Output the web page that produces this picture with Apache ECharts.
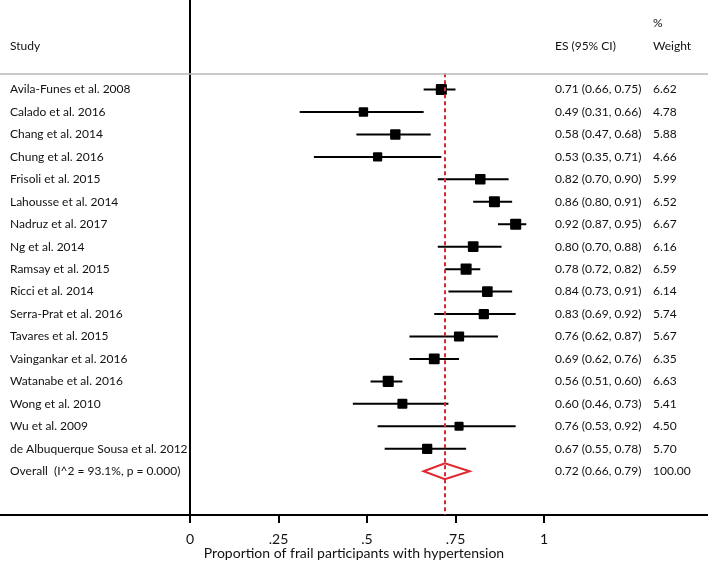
<!DOCTYPE html>
<html>
<head>
<meta charset="utf-8">
<script src="https://cdn.jsdelivr.net/npm/echarts@6/dist/echarts.min.js"></script>
<style>
html,body{margin:0;padding:0;background:#fff;overflow:hidden;}
#chart{width:708px;height:561px;}
</style>
</head>
<body>
<div id="chart"></div>
<script>
// ---- data ----
const studies = [
  "Avila-Funes et al. 2008",
  "Calado et al. 2016",
  "Chang et al. 2014",
  "Chung et al. 2016",
  "Frisoli et al. 2015",
  "Lahousse et al. 2014",
  "Nadruz et al. 2017",
  "Ng et al. 2014",
  "Ramsay et al. 2015",
  "Ricci et al. 2014",
  "Serra-Prat et al. 2016",
  "Tavares et al. 2015",
  "Vaingankar et al. 2016",
  "Watanabe et al. 2016",
  "Wong et al. 2010",
  "Wu et al. 2009",
  "de Albuquerque Sousa et al. 2012"
];
const es     = [0.71, 0.49, 0.58, 0.53, 0.82, 0.86, 0.92, 0.80, 0.78, 0.84, 0.83, 0.76, 0.69, 0.56, 0.60, 0.76, 0.67];
const ciLow  = [0.66, 0.31, 0.47, 0.35, 0.70, 0.80, 0.87, 0.70, 0.72, 0.73, 0.69, 0.62, 0.62, 0.51, 0.46, 0.53, 0.55];
const ciHigh = [0.75, 0.66, 0.68, 0.71, 0.90, 0.91, 0.95, 0.88, 0.82, 0.91, 0.92, 0.87, 0.76, 0.60, 0.73, 0.92, 0.78];
const weights = [6.62, 4.78, 5.88, 4.66, 5.99, 6.52, 6.67, 6.16, 6.59, 6.14, 5.74, 5.67, 6.35, 6.63, 5.41, 4.50, 5.70];

const overallLabel = "Overall  (I^2 = 93.1%, p = 0.000)";
const overallES = 0.72, overallLow = 0.66, overallHigh = 0.79, overallWeight = 100.00;

const xTickValues = [0, 0.25, 0.5, 0.75, 1];
const xTickLabels = ["0", ".25", ".5", ".75", "1"];
const xAxisTitle = "Proportion of frail participants with hypertension";
const headers = { study: "Study", es: "ES (95% CI)", pct: "%", weight: "Weight" };

// ---- layout constants (not data) ----
const X_MIN = -0.5367, X_MAX = 1.4633;
const Y_MIN = -3.987, Y_MAX = 18.95;
const COL_STUDY = -0.5085, COL_ES = 1.031, COL_WT = 1.308;
const ROW_HEADER = -1.95, ROW_PCT = -2.975, ROW_SEP = -0.72;
const FONT = "Lato";
const FS = 12;
const TXT = "#111";

const fmt = v => v.toFixed(2);

const rows = studies.map((s, i) => [es[i], ciLow[i], ciHigh[i], weights[i], i]);
const overallRow = [overallES, overallLow, overallHigh, overallWeight, studies.length];

function textEl(x, y, str) {
  return { type: 'text', x: x, y: y, style: { text: str, fill: TXT, font: FS + 'px ' + FONT, verticalAlign: 'middle', align: 'left' } };
}

const dom = document.getElementById('chart');
const chart = echarts.init(dom, null, { renderer: 'canvas', width: 708, height: 561 });
chart.setOption({
  animation: false,
  backgroundColor: '#fff',
  grid: { left: 0, right: 0, top: 0, bottom: 46, containLabel: false, outerBoundsMode: 'none' },
  xAxis: {
    type: 'value', min: X_MIN, max: X_MAX,
    axisLine: { show: true, onZero: false, lineStyle: { color: '#000', width: 2 } },
    axisTick: { show: true, customValues: xTickValues, length: 8, lineStyle: { color: '#000', width: 2 } },
    axisLabel: { show: true, customValues: xTickValues, margin: 17, color: TXT, fontFamily: FONT, fontSize: 14,
      formatter: v => { const k = xTickValues.findIndex(t => Math.abs(t - v) < 1e-9); return k >= 0 ? xTickLabels[k] : ''; } },
    splitLine: { show: false },
    name: xAxisTitle, nameLocation: 'middle', nameGap: 31, nameMoveOverlap: false,
    nameTextStyle: { color: TXT, fontFamily: FONT, fontSize: 14 }
  },
  yAxis: {
    type: 'value', inverse: true, min: Y_MIN, max: Y_MAX,
    axisLine: { show: true, onZero: true, lineStyle: { color: '#000', width: 2 } },
    axisTick: { show: false }, axisLabel: { show: false }, splitLine: { show: false }
  },
  series: [
    {
      type: 'custom',
      data: rows,
      renderItem: function (params, api) {
        const i = api.value(4);
        const p = api.coord([api.value(0), i]);
        const a = api.coord([api.value(1), i]);
        const b = api.coord([api.value(2), i]);
        const side = Math.sqrt(api.value(3)) * 4.3;
        const tStudy = api.coord([COL_STUDY, i]);
        const tEs = api.coord([COL_ES, i]);
        const tWt = api.coord([COL_WT, i]);
        return { type: 'group', children: [
          { type: 'line', shape: { x1: a[0], y1: a[1], x2: b[0], y2: b[1] }, style: { stroke: '#000', lineWidth: 2 } },
          { type: 'rect', shape: { x: p[0] - side / 2, y: p[1] - side / 2, width: side, height: side, r: 1 }, style: { fill: '#000' } },
          textEl(tStudy[0], tStudy[1], studies[params.dataIndex]),
          textEl(tEs[0], tEs[1], fmt(api.value(0)) + ' (' + fmt(api.value(1)) + ', ' + fmt(api.value(2)) + ')'),
          textEl(tWt[0], tWt[1], fmt(api.value(3)))
        ] };
      },
      markLine: {
        silent: true, symbol: 'none', label: { show: false },
        data: [
          [{ coord: [overallES, ROW_SEP] }, { coord: [overallES, Y_MAX] }]
        ],
        lineStyle: { color: '#d42a34', width: 2, type: [4, 3] }
      },
      z: 3
    },
    {
      type: 'custom',
      data: [overallRow],
      renderItem: function (params, api) {
        const i = api.value(4);
        const p = api.coord([api.value(0), i]);
        const a = api.coord([api.value(1), i]);
        const b = api.coord([api.value(2), i]);
        const h = 8;
        const tStudy = api.coord([COL_STUDY, i]);
        const tEs = api.coord([COL_ES, i]);
        const tWt = api.coord([COL_WT, i]);
        return { type: 'group', children: [
          { type: 'polygon', shape: { points: [[a[0], a[1]], [p[0], p[1] - h], [b[0], b[1]], [p[0], p[1] + h]] },
            style: { fill: '#fff', stroke: '#e0262e', lineWidth: 2 }, z2: 5 },
          textEl(tStudy[0], tStudy[1], overallLabel),
          textEl(tEs[0], tEs[1], fmt(api.value(0)) + ' (' + fmt(api.value(1)) + ', ' + fmt(api.value(2)) + ')'),
          textEl(tWt[0], tWt[1], fmt(api.value(3)))
        ] };
      },
      z: 4
    },
    {
      type: 'custom',
      data: [[0]],
      renderItem: function (params, api) {
        const s = api.coord([COL_STUDY, ROW_HEADER]);
        const e = api.coord([COL_ES, ROW_HEADER]);
        const w = api.coord([COL_WT, ROW_HEADER]);
        const pc = api.coord([COL_WT, ROW_PCT]);
        return { type: 'group', children: [
          textEl(s[0], s[1], headers.study),
          textEl(e[0], e[1], headers.es),
          textEl(pc[0], pc[1], headers.pct),
          textEl(w[0], w[1], headers.weight)
        ] };
      },
      markLine: {
        silent: true, symbol: 'none', label: { show: false },
        data: [{ yAxis: ROW_SEP }],
        lineStyle: { color: '#b8b8b8', width: 1.5, type: 'solid' }
      },
      z: 2
    }
  ]
});
</script>
</body>
</html>
